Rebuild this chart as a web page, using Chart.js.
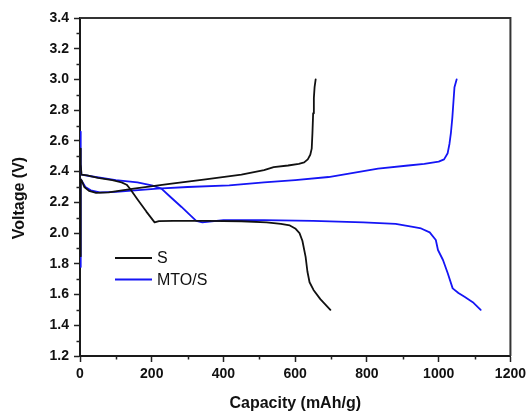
<!DOCTYPE html>
<html>
<head>
<meta charset="utf-8">
<script src="https://cdn.jsdelivr.net/npm/chart.js@4/dist/chart.umd.min.js"></script>
<style>
  html, body { margin: 0; padding: 0; background: #ffffff; }
  #wrap { width: 530px; height: 414px; position: relative; }
</style>
</head>
<body>
<div id="wrap"><canvas id="c" width="530" height="414"></canvas></div>
<script>
// Galvanostatic discharge/charge profiles: capacity (mAh/g) vs voltage (V)

// S electrode — discharge
const sDischargeCap = [0, 2, 4, 20, 50, 90, 116, 130, 139, 160, 185, 208, 220, 260, 350, 450, 520, 560, 585, 600, 612, 620, 629, 634, 640, 651, 670, 698];
const sDischargeV   = [2.55, 2.45, 2.38, 2.375, 2.36, 2.345, 2.33, 2.315, 2.29, 2.22, 2.14, 2.07, 2.078, 2.08, 2.08, 2.077, 2.07, 2.06, 2.05, 2.03, 2.0, 1.95, 1.845, 1.75, 1.68, 1.63, 1.57, 1.50];

// S electrode — charge
const sChargeCap = [0, 2, 5, 12, 25, 45, 80, 150, 250, 350, 450, 513, 540, 580, 610, 625, 635, 642, 646, 648, 650, 652, 654, 657];
const sChargeV   = [1.85, 2.35, 2.34, 2.3, 2.275, 2.262, 2.265, 2.29, 2.32, 2.35, 2.38, 2.41, 2.43, 2.44, 2.45, 2.46, 2.48, 2.51, 2.55, 2.65, 2.78, 2.88, 2.95, 3.0];

// MTO/S electrode — discharge
const mtoDischargeCap = [0, 2, 4, 30, 100, 160, 200, 227, 250, 283, 310, 324, 341, 400, 513, 650, 790, 880, 928, 951, 975, 992, 998, 1012, 1025, 1039, 1055, 1072, 1095, 1117];
const mtoDischargeV   = [2.66, 2.45, 2.38, 2.37, 2.345, 2.33, 2.31, 2.29, 2.24, 2.17, 2.11, 2.08, 2.07, 2.085, 2.085, 2.08, 2.07, 2.06, 2.04, 2.03, 2.005, 1.955, 1.89, 1.825, 1.74, 1.64, 1.61, 1.585, 1.55, 1.50];

// MTO/S electrode — charge
const mtoChargeCap = [0, 2, 5, 15, 30, 55, 100, 216, 300, 416, 513, 600, 693, 831, 915, 960, 1000, 1015, 1025, 1030, 1034, 1038, 1041, 1044, 1050];
const mtoChargeV   = [1.78, 2.35, 2.34, 2.3, 2.278, 2.265, 2.268, 2.29, 2.3, 2.31, 2.33, 2.345, 2.365, 2.42, 2.44, 2.45, 2.465, 2.48, 2.52, 2.58, 2.65, 2.75, 2.85, 2.95, 3.0];

// Axis settings and tick labels
const xMin = 0, xMax = 1200, xMajorStep = 200, xMinorStep = 100;
const yMin = 1.2, yMax = 3.4, yMajorStep = 0.2, yMinorStep = 0.1;
const xTitle = 'Capacity (mAh/g)';
const yTitle = 'Voltage (V)';

// Legend entries
const seriesNames = ['S', 'MTO/S'];
const seriesColors = ['#111111', '#1515f5'];

const toPoints = (xs, ys) => xs.map((x, i) => ({ x: x, y: ys[i] }));

const lineStyle = (color) => ({
  borderColor: color,
  backgroundColor: color,
  borderWidth: 1.8,
  borderJoinStyle: 'round',
  borderCapStyle: 'round',
  pointRadius: 0,
  tension: 0,
  fill: false
});

const datasets = [
  Object.assign({ label: seriesNames[0], data: toPoints(sDischargeCap, sDischargeV) }, lineStyle(seriesColors[0])),
  Object.assign({ label: seriesNames[0], data: toPoints(sChargeCap, sChargeV) }, lineStyle(seriesColors[0])),
  Object.assign({ label: seriesNames[1], data: toPoints(mtoDischargeCap, mtoDischargeV) }, lineStyle(seriesColors[1])),
  Object.assign({ label: seriesNames[1], data: toPoints(mtoChargeCap, mtoChargeV) }, lineStyle(seriesColors[1]))
];

const FONT = '"Liberation Sans", Arial, sans-serif';

// White page, frame on top/right, minor ticks, axis titles and the legend
const decorations = {
  id: 'decorations',
  beforeDraw(chart) {
    const ctx = chart.ctx;
    ctx.save();
    ctx.fillStyle = '#ffffff';
    ctx.fillRect(0, 0, chart.width, chart.height);
    ctx.restore();
  },
  afterDraw(chart) {
    const ctx = chart.ctx;
    const a = chart.chartArea;
    const xs = chart.scales.x, ys = chart.scales.y;
    ctx.save();

    // top and right frame lines
    ctx.strokeStyle = '#333333';
    ctx.lineWidth = 2;
    ctx.beginPath();
    ctx.moveTo(a.left, a.top);
    ctx.lineTo(a.right, a.top);
    ctx.lineTo(a.right, a.bottom);
    ctx.stroke();

    // minor ticks
    ctx.strokeStyle = '#222222';
    ctx.lineWidth = 1.5;
    ctx.beginPath();
    for (let v = xMin + xMinorStep; v < xMax; v += xMajorStep) {
      const px = Math.round(xs.getPixelForValue(v)) + 0.5;
      ctx.moveTo(px, a.bottom);
      ctx.lineTo(px, a.bottom + 3.5);
    }
    for (let k = 0; yMin + yMinorStep * (2 * k + 1) < yMax; k++) {
      const v = yMin + yMinorStep * (2 * k + 1);
      const py = Math.round(ys.getPixelForValue(v)) + 0.5;
      ctx.moveTo(a.left, py);
      ctx.lineTo(a.left - 3.5, py);
    }
    ctx.stroke();

    // axis titles
    ctx.fillStyle = '#111111';
    ctx.font = 'bold 16px ' + FONT;
    ctx.textAlign = 'center';
    ctx.textBaseline = 'middle';
    ctx.fillText(xTitle, (a.left + a.right) / 2, 404);
    ctx.save();
    ctx.translate(20, 198);
    ctx.rotate(-Math.PI / 2);
    ctx.fillText(yTitle, 0, 0);
    ctx.restore();

    // legend
    ctx.font = '16px ' + FONT;
    ctx.textAlign = 'left';
    seriesNames.forEach((name, i) => {
      const y = 258 + i * 21.5;
      ctx.strokeStyle = seriesColors[i];
      ctx.lineWidth = 1.8;
      ctx.beginPath();
      ctx.moveTo(115, y);
      ctx.lineTo(152, y);
      ctx.stroke();
      ctx.fillStyle = '#111111';
      ctx.fillText(name, 157, y + 1);
    });

    ctx.restore();
  }
};

new Chart(document.getElementById('c'), {
  type: 'line',
  data: { datasets: datasets },
  options: {
    responsive: false,
    animation: false,
    layout: { padding: { left: 0, top: 18, right: 17, bottom: 0 } },
    plugins: {
      legend: { display: false },
      tooltip: { enabled: false }
    },
    scales: {
      x: {
        type: 'linear',
        min: xMin,
        max: xMax,
        afterFit: (s) => { s.height = 58; },
        ticks: {
          stepSize: xMajorStep,
          color: '#111111',
          font: { family: FONT, size: 14, weight: 'bold' },
          padding: 4,
          maxRotation: 0,
          callback: (v) => String(v)
        },
        grid: {
          drawOnChartArea: false,
          drawTicks: true,
          tickLength: 6,
          tickColor: '#222222',
          tickWidth: 1.5
        },
        border: { display: true, color: '#1a1a1a', width: 2 }
      },
      y: {
        type: 'linear',
        min: yMin,
        max: yMax,
        afterFit: (s) => { s.width = 80; },
        ticks: {
          stepSize: yMajorStep,
          color: '#111111',
          font: { family: FONT, size: 14, weight: 'bold' },
          padding: 5,
          callback: (v) => Number(v).toFixed(1)
        },
        grid: {
          drawOnChartArea: false,
          drawTicks: true,
          tickLength: 6,
          tickColor: '#222222',
          tickWidth: 1.5
        },
        border: { display: true, color: '#1a1a1a', width: 2 }
      }
    }
  },
  plugins: [decorations]
});
</script>
</body>
</html>
